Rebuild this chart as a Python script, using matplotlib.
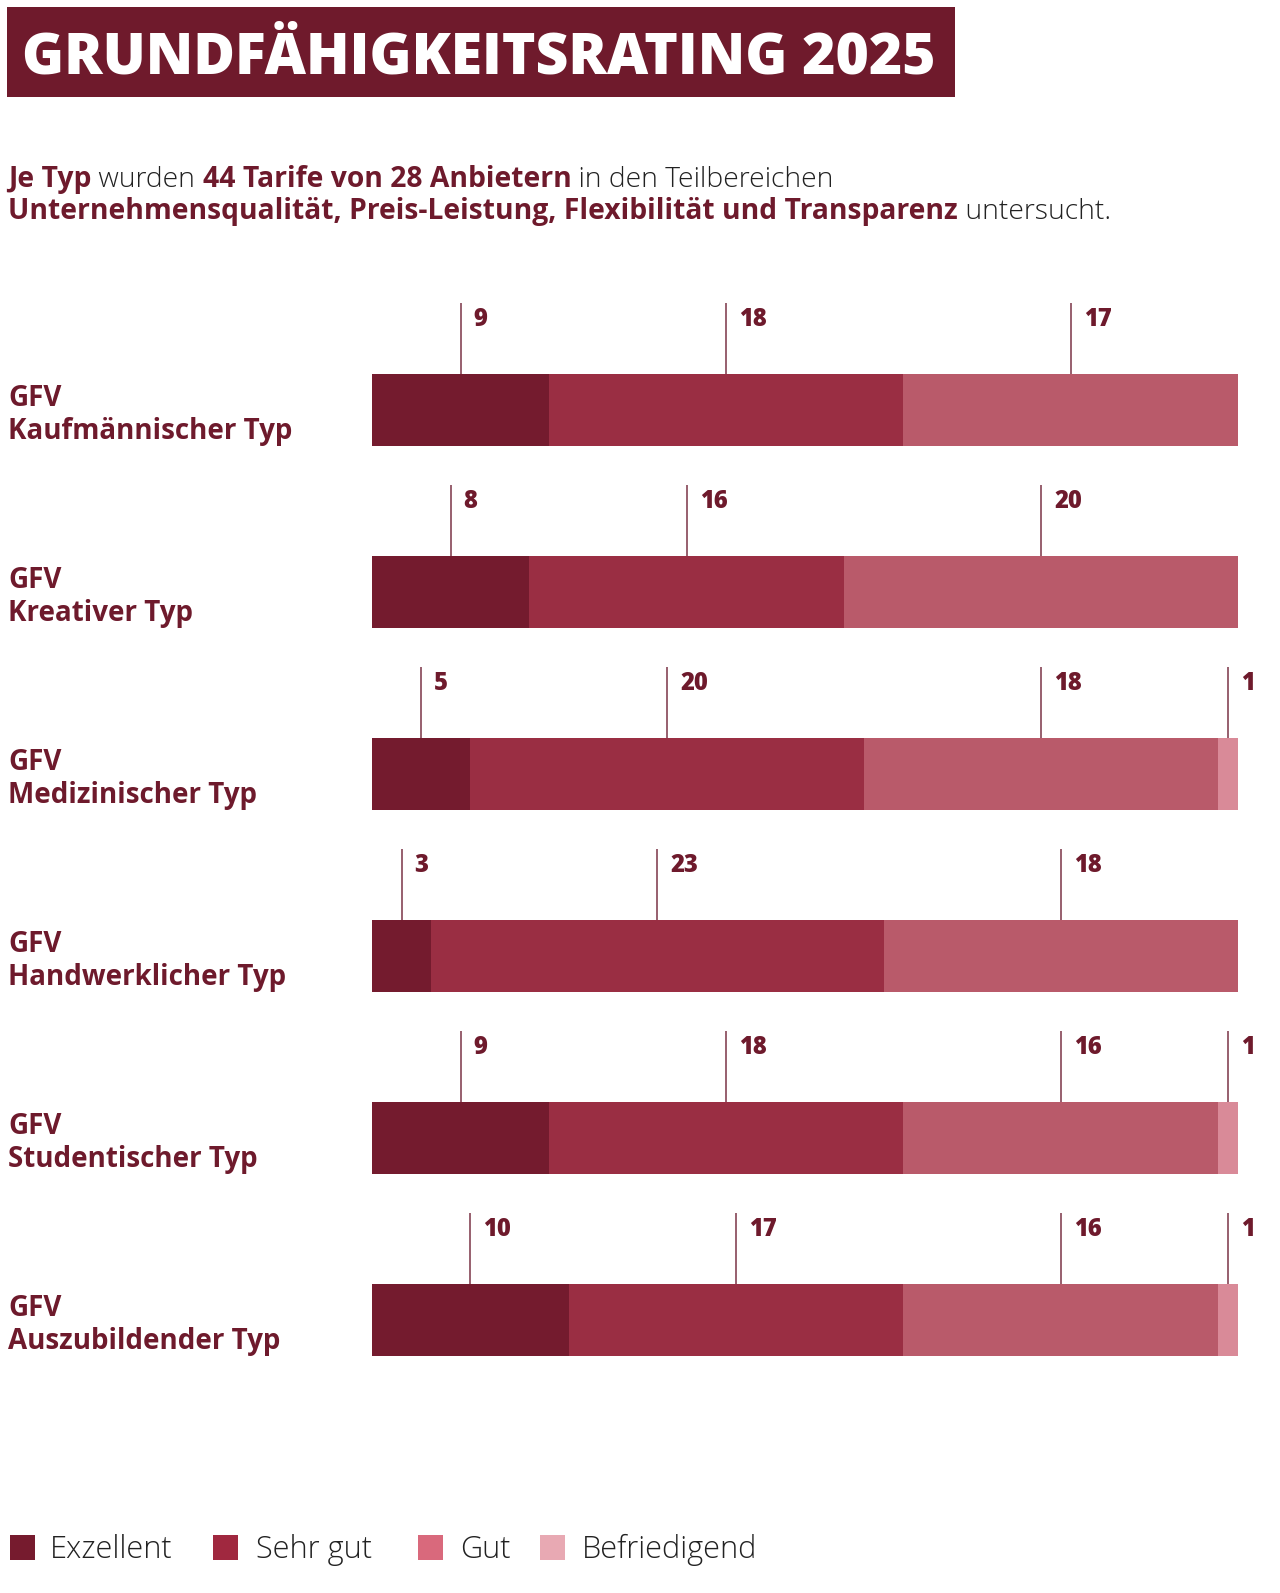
import matplotlib
matplotlib.use("Agg")
import matplotlib.pyplot as plt
from matplotlib.patches import Rectangle
import matplotlib.transforms as mtransforms

# ---------------- data ----------------
categories = ["Kaufmännischer Typ", "Kreativer Typ", "Medizinischer Typ",
              "Handwerklicher Typ", "Studentischer Typ", "Auszubildender Typ"]
exzellent = [9, 8, 5, 3, 9, 10]
sehr_gut = [18, 16, 20, 23, 18, 17]
gut = [17, 20, 18, 18, 16, 16]
befriedigend = [0, 0, 1, 0, 1, 1]
series_names = ["Exzellent", "Sehr gut", "Gut", "Befriedigend"]
title = "GRUNDFÄHIGKEITSRATING 2025"

# ---------------- style ----------------
bar_colors = ["#741b2e", "#9a2e43", "#b95a6a", "#d98a98"]
legend_colors = ["#761b2e", "#a0283f", "#d9697c", "#e8a9b3"]
dark = "#6e1a2c"
line_col = "#7a3446"
BOLD = "Open Sans"
REG = "Open Sans"

W, H = 1280, 1593
fig = plt.figure(figsize=(W / 100, H / 100), dpi=100)
fig.patch.set_facecolor("white")
renderer = fig.canvas.get_renderer()


def fx(p):
    return p / W


def fy(p):
    return 1 - p / H


def text_width(txt, family, weight, size):
    t = fig.text(0, 0, txt, fontsize=size, family=family, fontweight=weight)
    w = t.get_window_extent(renderer=renderer).width
    t.remove()
    return w


def fit_size(txt, family, weight, target):
    return 10 * target / text_width(txt, family, weight, 10)


# title box
fig.add_artist(Rectangle((fx(7), fy(97)), fx(955) - fx(7), (97 - 7) / H,
                         transform=fig.transFigure, facecolor="#6f1a2c",
                         edgecolor="none"))
ts = fit_size(title, BOLD, "heavy", 918)
fig.text(fx(22), fy(73), title, color="white", fontsize=ts, fontweight="heavy",
         family=BOLD, va="baseline", ha="left")

# subtitle with mixed weights
line1 = [("Je Typ", True), (" wurden ", False),
         ("44 Tarife von 28 Anbietern", True), (" in den Teilbereichen", False)]
line2 = [("Unternehmensqualität, Preis-Leistung, Flexibilität und Transparenz", True),
         (" untersucht.", False)]


def line_width(parts, size):
    return sum(text_width(t, BOLD if b else REG, "bold" if b else "light", size)
               for t, b in parts)


sub_size = 10 * 1105 / line_width(line2, 10)


def rich_line(x0, ybase, parts, size):
    x = x0
    for txt, bold in parts:
        t = fig.text(fx(x), fy(ybase), txt, fontsize=size,
                     family=BOLD if bold else REG,
                     fontweight="bold" if bold else "light",
                     color=dark if bold else "#222222", va="baseline", ha="left")
        x += t.get_window_extent(renderer=renderer).width


rich_line(8, 187, line1, sub_size)
rich_line(8, 219, line2, sub_size)

# main axes
ax = fig.add_axes([fx(372), fy(1400), fx(1238) - fx(372), (1400 - 280) / H])
ax.set_xlim(0, 44)
ax.set_ylim((1400 - 410) / 182, (280 - 410) / 182)
ax.axis("off")

num_size = fit_size("18", BOLD, "heavy", 28)
bar_h = 72 / 182
lead = 71 / 182
ys = list(range(len(categories)))
series = [exzellent, sehr_gut, gut, befriedigend]
lefts = [0] * len(categories)
for vals, col in zip(series, bar_colors):
    ax.barh(ys, vals, left=lefts, height=bar_h, color=col, linewidth=0)
    for i, v in enumerate(vals):
        if v > 0:
            mid = lefts[i] + v / 2
            top = i - bar_h / 2
            ax.vlines(mid, top - lead, top, color=line_col, linewidth=1.1)
            ax.annotate(str(v), xy=(mid, top - lead), xytext=(13, -23),
                        textcoords="offset pixels", ha="left", va="baseline",
                        fontsize=num_size, fontweight="heavy", family=BOLD,
                        color=dark, annotation_clip=False)
    lefts = [l + v for l, v in zip(lefts, vals)]

# row labels
lab_size = fit_size("Kaufmännischer Typ", BOLD, "bold", 284)
blend = mtransforms.blended_transform_factory(fig.transFigure, ax.transData)
for i, cat in enumerate(categories):
    fig.text(fx(8), i + (399 - 410) / 182, "GFV", transform=blend, fontsize=lab_size,
             fontweight="bold", family=BOLD, color=dark, va="center", ha="left")
    fig.text(fx(8), i + (432 - 410) / 182, cat, transform=blend, fontsize=lab_size,
             fontweight="bold", family=BOLD, color=dark, va="center", ha="left")

# legend
leg_size = fit_size("Befriedigend", REG, "light", 175)
sq_x = [10, 213, 418, 540]
tx_x = [50, 256, 460, 582]
for name, col, sx, tx in zip(series_names, legend_colors, sq_x, tx_x):
    fig.add_artist(Rectangle((fx(sx), fy(1560)), 25 / W, 25 / H,
                             transform=fig.transFigure, facecolor=col,
                             edgecolor="none"))
    fig.text(fx(tx), fy(1558), name, fontsize=leg_size, family=REG,
             fontweight="light", color="#222222", va="baseline", ha="left")

fig.savefig("out.png", dpi=100)
